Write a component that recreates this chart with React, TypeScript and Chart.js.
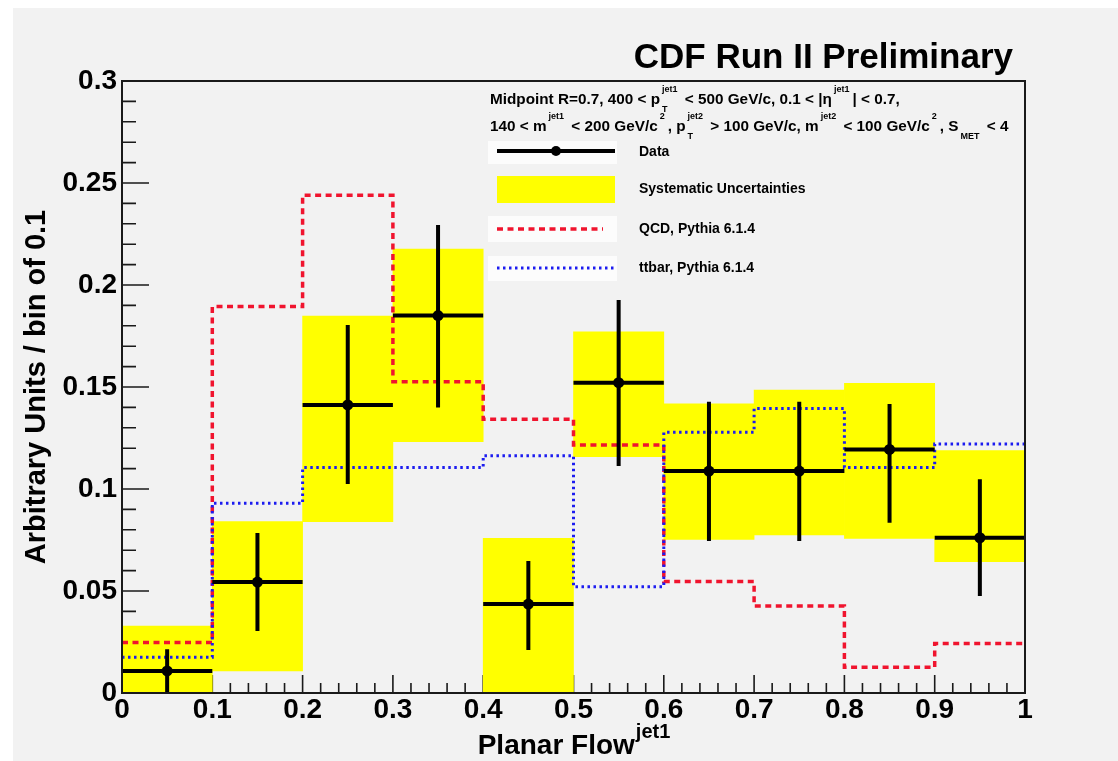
import React, { useEffect, useRef } from "react";
import { Chart, registerables } from "chart.js";

Chart.register(...registerables);

// ---- data ----
const binEdges = [0, 0.1, 0.2, 0.3, 0.4, 0.5, 0.6, 0.7, 0.8, 0.9, 1.0];
const binCenters = [0.05, 0.15, 0.25, 0.35, 0.45, 0.55, 0.65, 0.75, 0.85, 0.95];
const dataValues = [0.0108, 0.0544, 0.1412, 0.185, 0.0436, 0.1521, 0.1088, 0.1088, 0.1194, 0.0761];
const dataErrLow = [0.0, 0.0304, 0.1025, 0.14, 0.0211, 0.1113, 0.0745, 0.0745, 0.0835, 0.0475];
const dataErrHigh = [0.0214, 0.0784, 0.1804, 0.2294, 0.0647, 0.1926, 0.1428, 0.1428, 0.1417, 0.1048];
const systLow = [0.0, 0.0108, 0.084, 0.1232, 0.0, 0.1158, 0.0753, 0.0775, 0.0758, 0.0644];
const systHigh = [0.0328, 0.084, 0.1848, 0.2176, 0.0758, 0.1771, 0.1417, 0.1485, 0.1518, 0.1188];
const qcdValues = [0.0247, 0.1894, 0.244, 0.1526, 0.1342, 0.1216, 0.0546, 0.0426, 0.0126, 0.0243];
const ttbarValues = [0.0175, 0.093, 0.1105, 0.1105, 0.1163, 0.0521, 0.1278, 0.1395, 0.1105, 0.122];

const xTickStep = 0.1;
const yTickStep = 0.05;
const xMin = 0, xMax = 1, yMin = 0, yMax = 0.3;

// ---- text ----
const titleText = "CDF Run II Preliminary";
const xTitleMain = "Planar Flow";
const xTitleSup = "jet1";
const yTitleText = "Arbitrary Units / bin of 0.1";
const legendLabels = ["Data", "Systematic Uncertainties", "QCD, Pythia 6.1.4", "ttbar, Pythia 6.1.4"];
type Seg = { t?: string; sup?: string; sub?: string };
const headerLine1: Seg[] = [
  { t: "Midpoint R=0.7, 400 < p" }, { sub: "T", sup: "jet1" },
  { t: " < 500 GeV/c, 0.1 < |\u03b7" }, { sup: "jet1" }, { t: "| < 0.7," },
];
const headerLine2: Seg[] = [
  { t: "140 < m" }, { sup: "jet1" }, { t: " < 200 GeV/c" }, { sup: "2" },
  { t: ", p" }, { sub: "T", sup: "jet2" }, { t: " > 100 GeV/c, m" }, { sup: "jet2" },
  { t: " < 100 GeV/c" }, { sup: "2" }, { t: ", S" }, { sub: "MET" }, { t: " < 4" },
];

const FONT = '"Liberation Sans", Arial, Helvetica, sans-serif';
const RED = "#f0142e";
const BLUE = "#1c1cf0";
const YELLOW = "#ffff00";
const BG = "#f2f2f2";

function fmt(v: number) {
  return String(Math.round(v * 1000) / 1000);
}

function stepPoints(vals: number[]) {
  const pts = vals.map((v, i) => ({ x: binEdges[i], y: v }));
  pts.push({ x: binEdges[binEdges.length - 1], y: vals[vals.length - 1] });
  return pts;
}

function drawRich(ctx: CanvasRenderingContext2D, segs: Seg[], x: number, y: number, size: number) {
  const main = `bold ${size}px ${FONT}`;
  const small = `bold ${Math.round(size * 0.62)}px ${FONT}`;
  ctx.textAlign = "left";
  ctx.textBaseline = "alphabetic";
  for (const s of segs) {
    if (s.t !== undefined) {
      ctx.font = main;
      ctx.fillText(s.t, x, y);
      x += ctx.measureText(s.t).width;
    } else {
      ctx.font = small;
      let w = 0;
      if (s.sup) {
        ctx.fillText(s.sup, x + 2, y - size * 0.8);
        w = Math.max(w, ctx.measureText(s.sup).width);
      }
      if (s.sub) {
        ctx.fillText(s.sub, x + 2, y + size * 0.5);
        w = Math.max(w, ctx.measureText(s.sub).width);
      }
      x += w + 5;
    }
  }
}

const decorPlugin = {
  id: "decor",
  beforeDraw(chart: any) {
    const ctx = chart.ctx as CanvasRenderingContext2D;
    ctx.save();
    ctx.fillStyle = "#ffffff";
    ctx.fillRect(0, 0, chart.width, chart.height);
    ctx.fillStyle = BG;
    ctx.fillRect(13, 8, chart.width - 13, chart.height - 8);
    ctx.restore();
  },
  beforeDatasetsDraw(chart: any) {
    const ctx = chart.ctx as CanvasRenderingContext2D;
    const a = chart.chartArea;
    const xs = chart.scales.x;
    const ys = chart.scales.y;
    ctx.save();
    ctx.strokeStyle = "#1a1a1a";
    ctx.lineWidth = 1.6;
    ctx.beginPath();
    const xt = xs.ticks.map((t: any) => t.value);
    for (let i = 0; i < xt.length; i++) {
      const px = xs.getPixelForValue(xt[i]);
      ctx.moveTo(px, a.bottom);
      ctx.lineTo(px, a.bottom - 18);
      if (i < xt.length - 1) {
        for (let k = 1; k < 5; k++) {
          const mx = xs.getPixelForValue(xt[i] + ((xt[i + 1] - xt[i]) * k) / 5);
          ctx.moveTo(mx, a.bottom);
          ctx.lineTo(mx, a.bottom - 10);
        }
      }
    }
    const yt = ys.ticks.map((t: any) => t.value);
    for (let i = 0; i < yt.length; i++) {
      const py = ys.getPixelForValue(yt[i]);
      ctx.moveTo(a.left, py);
      ctx.lineTo(a.left + 27, py);
      if (i < yt.length - 1) {
        for (let k = 1; k < 5; k++) {
          const my = ys.getPixelForValue(yt[i] + ((yt[i + 1] - yt[i]) * k) / 5);
          ctx.moveTo(a.left, my);
          ctx.lineTo(a.left + 14, my);
        }
      }
    }
    ctx.stroke();
    ctx.restore();
  },
  afterDatasetsDraw(chart: any) {
    const ctx = chart.ctx as CanvasRenderingContext2D;
    const a = chart.chartArea;
    ctx.save();
    // frame
    ctx.strokeStyle = "#1a1a1a";
    ctx.lineWidth = 2;
    ctx.strokeRect(a.left, a.top, a.right - a.left, a.bottom - a.top);

    ctx.fillStyle = "#000";
    // title
    ctx.font = `bold 35px ${FONT}`;
    ctx.textAlign = "right";
    ctx.textBaseline = "alphabetic";
    ctx.fillText(titleText, 1013, 68);

    // x title with superscript, centred on the plot
    ctx.font = `bold 28px ${FONT}`;
    const wMain = ctx.measureText(xTitleMain).width;
    ctx.font = `bold 20px ${FONT}`;
    const wSup = ctx.measureText(xTitleSup).width;
    const cx = (a.left + a.right) / 2;
    const x0 = cx - (wMain + wSup) / 2;
    ctx.textAlign = "left";
    ctx.font = `bold 28px ${FONT}`;
    ctx.fillText(xTitleMain, x0, 754);
    ctx.font = `bold 20px ${FONT}`;
    ctx.fillText(xTitleSup, x0 + wMain + 1, 738);

    // y title
    ctx.save();
    ctx.translate(45, (a.top + a.bottom) / 2);
    ctx.rotate(-Math.PI / 2);
    ctx.font = `bold 29px ${FONT}`;
    ctx.textAlign = "center";
    ctx.fillText(yTitleText, 0, 0);
    ctx.restore();

    // legend
    const sx0 = 497, sx1 = 615, tx = 639;
    ctx.fillStyle = "#000";
    drawRich(ctx, headerLine1, 490, 104, 15.3);
    drawRich(ctx, headerLine2, 490, 131, 15.3);

    ctx.fillStyle = "#fcfcfc";
    ctx.fillRect(488, 141, 129, 23);
    ctx.fillRect(488, 216, 129, 26);
    ctx.fillRect(488, 256, 129, 25);

    // data symbol
    ctx.strokeStyle = "#000";
    ctx.lineWidth = 4;
    ctx.beginPath();
    ctx.moveTo(sx0, 151);
    ctx.lineTo(sx1, 151);
    ctx.stroke();
    ctx.fillStyle = "#000";
    ctx.beginPath();
    ctx.arc((sx0 + sx1) / 2, 151, 5, 0, Math.PI * 2);
    ctx.fill();
    // syst
    ctx.fillStyle = YELLOW;
    ctx.fillRect(sx0, 176, sx1 - sx0, 27);
    // qcd
    ctx.strokeStyle = RED;
    ctx.lineWidth = 3.5;
    ctx.setLineDash([6, 4.5]);
    ctx.beginPath();
    ctx.moveTo(sx0, 229);
    ctx.lineTo(sx1 - 12, 229);
    ctx.stroke();
    // ttbar
    ctx.strokeStyle = BLUE;
    ctx.lineWidth = 3;
    ctx.setLineDash([2.5, 3.5]);
    ctx.beginPath();
    ctx.moveTo(sx0, 268);
    ctx.lineTo(sx1, 268);
    ctx.stroke();
    ctx.setLineDash([]);

    ctx.fillStyle = "#000";
    ctx.font = `bold 14px ${FONT}`;
    ctx.textAlign = "left";
    ctx.textBaseline = "middle";
    ctx.fillText(legendLabels[0], tx, 152);
    ctx.fillText(legendLabels[1], tx, 189);
    ctx.fillText(legendLabels[2], tx, 229);
    ctx.fillText(legendLabels[3], tx, 268);
    ctx.restore();
  },
};

export default function App() {
  const ref = useRef<HTMLCanvasElement | null>(null);
  useEffect(() => {
    document.body.style.margin = "0";
    const canvas = ref.current!;
    const errV: any[] = [];
    const errH: any[] = [];
    binCenters.forEach((c, i) => {
      errV.push({ x: c, y: dataErrLow[i] }, { x: c, y: dataErrHigh[i] }, { x: c, y: null });
      errH.push({ x: binEdges[i], y: dataValues[i] }, { x: binEdges[i + 1], y: dataValues[i] }, { x: binEdges[i + 1], y: null });
    });
    const tickFont = { family: FONT, size: 28, weight: "bold" as const };
    const chart = new Chart(canvas, {
      type: "scatter",
      data: {
        datasets: [
          {
            type: "bar",
            label: legendLabels[1],
            data: binCenters.map((c, i) => ({ x: c, y: [systLow[i], systHigh[i]] })) as any,
            backgroundColor: YELLOW,
            borderWidth: 0,
            barPercentage: 1,
            categoryPercentage: 1,
            order: 5,
          } as any,
          {
            type: "line",
            label: legendLabels[2],
            data: stepPoints(qcdValues),
            stepped: "before",
            borderColor: RED,
            borderWidth: 3.5,
            borderDash: [6, 4.5],
            pointRadius: 0,
            fill: false,
            order: 4,
          },
          {
            type: "line",
            label: legendLabels[3],
            data: stepPoints(ttbarValues),
            stepped: "before",
            borderColor: BLUE,
            borderWidth: 3,
            borderDash: [2.5, 3.5],
            pointRadius: 0,
            fill: false,
            order: 3,
          },
          {
            type: "line",
            label: "errV",
            data: errV,
            borderColor: "#000",
            borderWidth: 4,
            pointRadius: 0,
            spanGaps: false,
            fill: false,
            order: 2,
          },
          {
            type: "line",
            label: "errH",
            data: errH,
            borderColor: "#000",
            borderWidth: 4,
            pointRadius: 0,
            spanGaps: false,
            fill: false,
            order: 1,
          },
          {
            type: "scatter",
            label: legendLabels[0],
            data: binCenters.map((c, i) => ({ x: c, y: dataValues[i] })),
            pointRadius: 5.5,
            pointBackgroundColor: "#000",
            pointBorderWidth: 0,
            order: 0,
          },
        ],
      },
      options: {
        responsive: false,
        animation: false,
        devicePixelRatio: 1,
        events: [],
        layout: { padding: { left: 0, top: 81, right: 93, bottom: 0 } },
        plugins: { legend: { display: false }, tooltip: { enabled: false }, title: { display: false } },
        scales: {
          x: {
            type: "linear",
            min: xMin,
            max: xMax,
            offset: false,
            grid: { display: false, drawTicks: false, offset: false },
            border: { display: false },
            ticks: {
              stepSize: xTickStep,
              padding: 0,
              autoSkip: false,
              maxRotation: 0,
              color: "#000",
              font: tickFont,
              callback: (v: any) => fmt(Number(v)),
            },
            afterFit: (s: any) => {
              s.height = 68;
            },
          },
          y: {
            type: "linear",
            min: yMin,
            max: yMax,
            grid: { display: false, drawTicks: false },
            border: { display: false },
            ticks: {
              stepSize: yTickStep,
              padding: 5,
              color: "#000",
              font: tickFont,
              callback: (v: any) => fmt(Number(v)),
            },
            afterFit: (s: any) => {
              s.width = 122;
            },
          },
        },
      },
      plugins: [decorPlugin],
    });
    return () => chart.destroy();
  }, []);
  return (
    <div style={{ position: "fixed", left: 0, top: 0, width: 1118, height: 761 }}>
      <canvas ref={ref} width={1118} height={761} style={{ width: 1118, height: 761, display: "block" }} />
    </div>
  );
}
